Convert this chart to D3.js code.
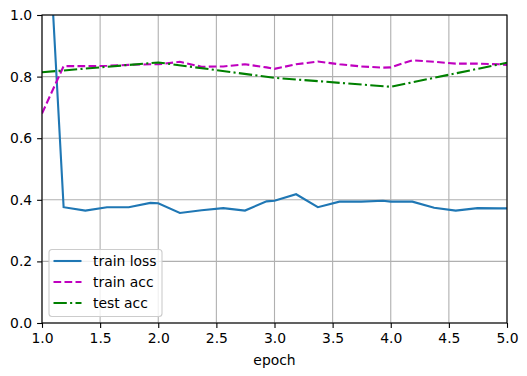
<!DOCTYPE html>
<html lang="en">
<head>
<meta charset="UTF-8">
<title>Training curves</title>
<script src="https://cdn.jsdelivr.net/npm/d3@7"></script>
<style>
  html, body { margin: 0; padding: 0; background: #fff; }
  text { font-family: "DejaVu Sans", sans-serif; fill: #000; }
  .tick text { font-size: 13.9px; }
  .grid line { stroke: #b0b0b0; stroke-width: 1.1; }
</style>
</head>
<body>
<svg id="chart" width="527" height="376"></svg>
<script>
// train points (epoch positions of the logged batches)
const trainEpoch = [1.0, 1.186, 1.373, 1.559, 1.746, 1.932, 2.0,
  2.186, 2.373, 2.559, 2.746, 2.932, 3.0,
  3.186, 3.373, 3.559, 3.746, 3.932, 4.0,
  4.186, 4.373, 4.559, 4.746, 4.932, 5.0]
const trainLoss = [1.67, 0.376, 0.365, 0.376, 0.376, 0.39, 0.389,
  0.357, 0.366, 0.373, 0.365, 0.395, 0.397,
  0.418, 0.376, 0.394, 0.394, 0.397, 0.394,
  0.394, 0.374, 0.365, 0.373, 0.372, 0.372]
const trainAcc = [0.68, 0.834, 0.834, 0.835, 0.838, 0.84, 0.84,
  0.848, 0.832, 0.833, 0.840, 0.83, 0.825,
  0.84, 0.849, 0.84, 0.833, 0.829, 0.83,
  0.853, 0.848, 0.842, 0.842, 0.84, 0.838]
const testEpoch = [1, 2, 3, 4, 5]
const testAcc = [0.814, 0.846, 0.796, 0.767, 0.845]

const xTicks = [1.0, 1.5, 2.0, 2.5, 3.0, 3.5, 4.0, 4.5, 5.0]
const yTicks = [0.0, 0.2, 0.4, 0.6, 0.8, 1.0]

const series = [
  { label: 'train loss', xs: trainEpoch, ys: trainLoss, color: '#1f77b4', dash: null },
  { label: 'train acc', xs: trainEpoch, ys: trainAcc, color: '#bf00bf', dash: '7.7,3.3' },
  { label: 'test acc', xs: testEpoch, ys: testAcc, color: '#008000', dash: '13.3,3.3,2.1,3.3' }
]

const margin = { top: 15, right: 20, bottom: 53, left: 42 }
const svg = d3.select('#chart')
const W = +svg.attr('width') - margin.left - margin.right
const H = +svg.attr('height') - margin.top - margin.bottom

const x = d3.scaleLinear().domain([1, 5]).range([0, W])
const y = d3.scaleLinear().domain([0, 1]).range([H, 0])

const g = svg.append('g').attr('transform', `translate(${margin.left},${margin.top})`)

// grid
g.append('g').attr('class', 'grid')
  .selectAll('line.v').data(xTicks).enter().append('line')
  .attr('x1', d => x(d)).attr('x2', d => x(d)).attr('y1', 0).attr('y2', H)
g.append('g').attr('class', 'grid')
  .selectAll('line.h').data(yTicks).enter().append('line')
  .attr('y1', d => y(d)).attr('y2', d => y(d)).attr('x1', 0).attr('x2', W)

// lines
g.append('clipPath').attr('id', 'clip').append('rect').attr('width', W).attr('height', H)
const plot = g.append('g').attr('clip-path', 'url(#clip)')
series.forEach(s => {
  const line = d3.line().x(i => x(s.xs[i])).y(i => y(s.ys[i]))
  plot.append('path')
    .attr('d', line(d3.range(s.xs.length)))
    .attr('fill', 'none')
    .attr('stroke', s.color)
    .attr('stroke-width', 2.1)
    .attr('stroke-dasharray', s.dash)
})

// axes
const xAxis = g.append('g').attr('transform', `translate(0,${H})`)
  .call(d3.axisBottom(x).tickValues(xTicks).tickFormat(d3.format('.1f')).tickSize(4.9).tickPadding(4.9))
const yAxis = g.append('g')
  .call(d3.axisLeft(y).tickValues(yTicks).tickFormat(d3.format('.1f')).tickSize(4.9).tickPadding(4.9))
;[xAxis, yAxis].forEach(a => {
  a.select('.domain').remove()
  a.selectAll('.tick line').attr('stroke', '#000').attr('stroke-width', 1.1)
  a.selectAll('.tick text').attr('fill', '#000').style('font-family', '"DejaVu Sans", sans-serif')
})

// frame
g.append('rect').attr('width', W).attr('height', H)
  .attr('fill', 'none').attr('stroke', '#000').attr('stroke-width', 1.1)

g.append('text')
  .attr('x', W / 2).attr('y', H + 41.5)
  .attr('text-anchor', 'middle')
  .attr('font-size', '13.9px')
  .text('epoch')

// legend
const legend = g.append('g').attr('transform', `translate(7,${H - 73.5})`)
legend.append('rect')
  .attr('width', 113).attr('height', 67).attr('rx', 3)
  .attr('fill', 'rgba(255,255,255,0.8)').attr('stroke', '#cccccc').attr('stroke-width', 1.1)
series.forEach((s, i) => {
  const row = legend.append('g').attr('transform', `translate(0,${11.5 + i * 21})`)
  row.append('line').attr('x1', 4.5).attr('x2', 32.5).attr('y1', 0).attr('y2', 0)
    .attr('stroke', s.color).attr('stroke-width', 2.1).attr('stroke-dasharray', s.dash)
  row.append('text').attr('x', 44).attr('y', 5).attr('font-size', '13.9px').text(s.label)
})
</script>
</body>
</html>
